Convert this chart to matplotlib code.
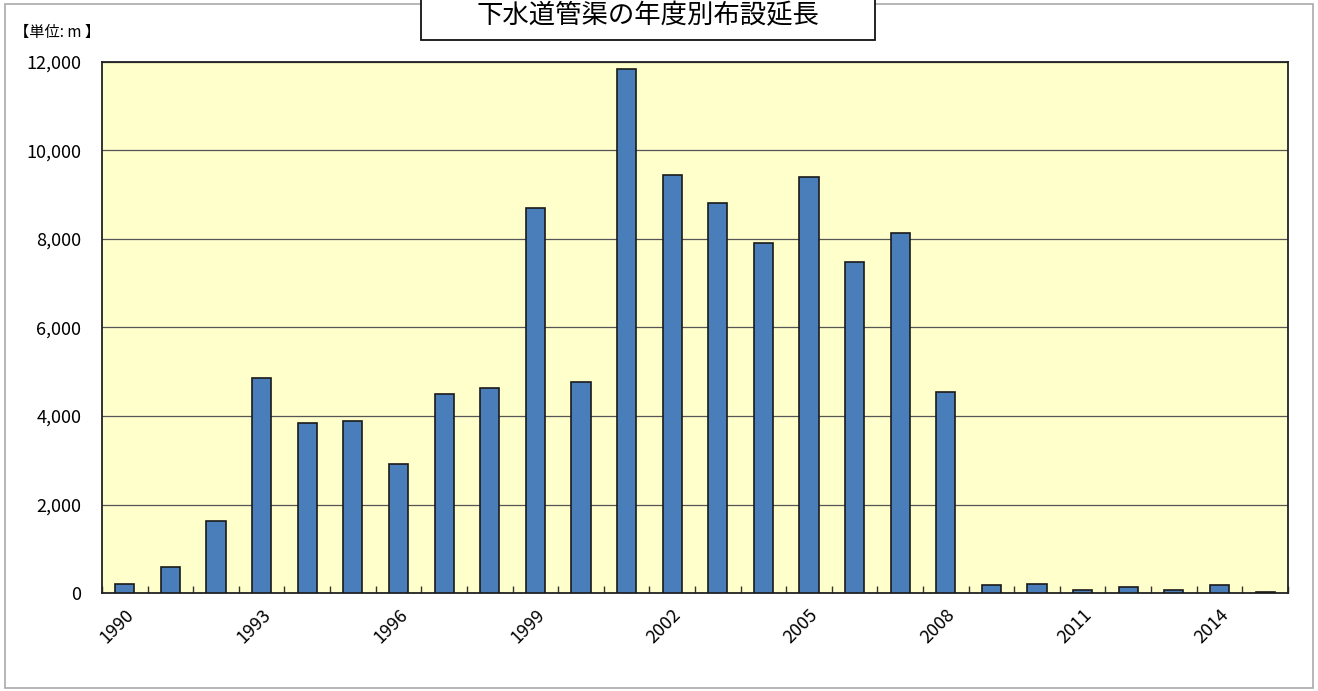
import numpy as np
import matplotlib.pyplot as plt
from matplotlib.patches import Rectangle

plt.rcParams['font.family'] = ['Noto Sans CJK JP', 'DejaVu Sans']

years = list(range(1990, 2016))
lengths = [200, 580, 1620, 4850, 3840, 3880, 2910, 4500, 4630, 8700,
           4770, 11840, 9450, 8810, 7910, 9400, 7480, 8130, 4540, 180,
           210, 60, 130, 60, 180, 30]
yticks = [0, 2000, 4000, 6000, 8000, 10000, 12000]
ytick_labels = ['0', '2,000', '4,000', '6,000', '8,000', '10,000', '12,000']

title = '下水道管渠の年度別布設延長'
unit = '【単位: m 】'

fig = plt.figure(figsize=(13.18, 6.91), dpi=100)
ax = fig.add_axes([0.0774, 0.1418, 0.8998, 0.7685])

x = np.arange(len(years))
ax.set_facecolor('#FFFFCC')
ax.bar(x, lengths, width=0.42, color='#4A7EBB', edgecolor='#1a1a1a', linewidth=1.2, zorder=3)

ax.set_xlim(-0.5, len(years) - 0.5)
ax.set_ylim(0, 12000)
ax.set_yticks(yticks)
ax.set_yticklabels(ytick_labels, fontsize=13)
ax.tick_params(axis='y', length=0, pad=15)
ax.grid(axis='y', color='#555555', linewidth=0.9, zorder=1)

# boundary ticks + labels every 3 years
ax.set_xticks(np.arange(len(years) + 1) - 0.5, minor=True)
ax.tick_params(axis='x', which='minor', direction='in', length=5, width=1, color='#333333')
ax.set_xticks(x[::3])
ax.set_xticklabels([str(y) for y in years[::3]], rotation=45, ha='right',
                   rotation_mode='anchor', fontsize=13)
ax.tick_params(axis='x', which='major', length=0, pad=9)

for s in ax.spines.values():
    s.set_color('#222222')
    s.set_linewidth(1.3)

# outer frame
fig.patches.append(Rectangle((0.004, 0.004), 0.992, 0.99, transform=fig.transFigure,
                             fill=False, edgecolor='#aaaaaa', linewidth=1.2))
# title box (runs off the top edge)
fig.patches.append(Rectangle((0.3194, 0.9421), 0.3445, 0.1, transform=fig.transFigure,
                             facecolor='white', edgecolor='#111111', linewidth=1.3, zorder=5))
fig.text(0.4917, 0.977, title, ha='center', va='center', fontsize=19, zorder=6)
fig.text(0.011, 0.953, unit, ha='left', va='center', fontsize=11)

fig.savefig('out.png', dpi=100)
